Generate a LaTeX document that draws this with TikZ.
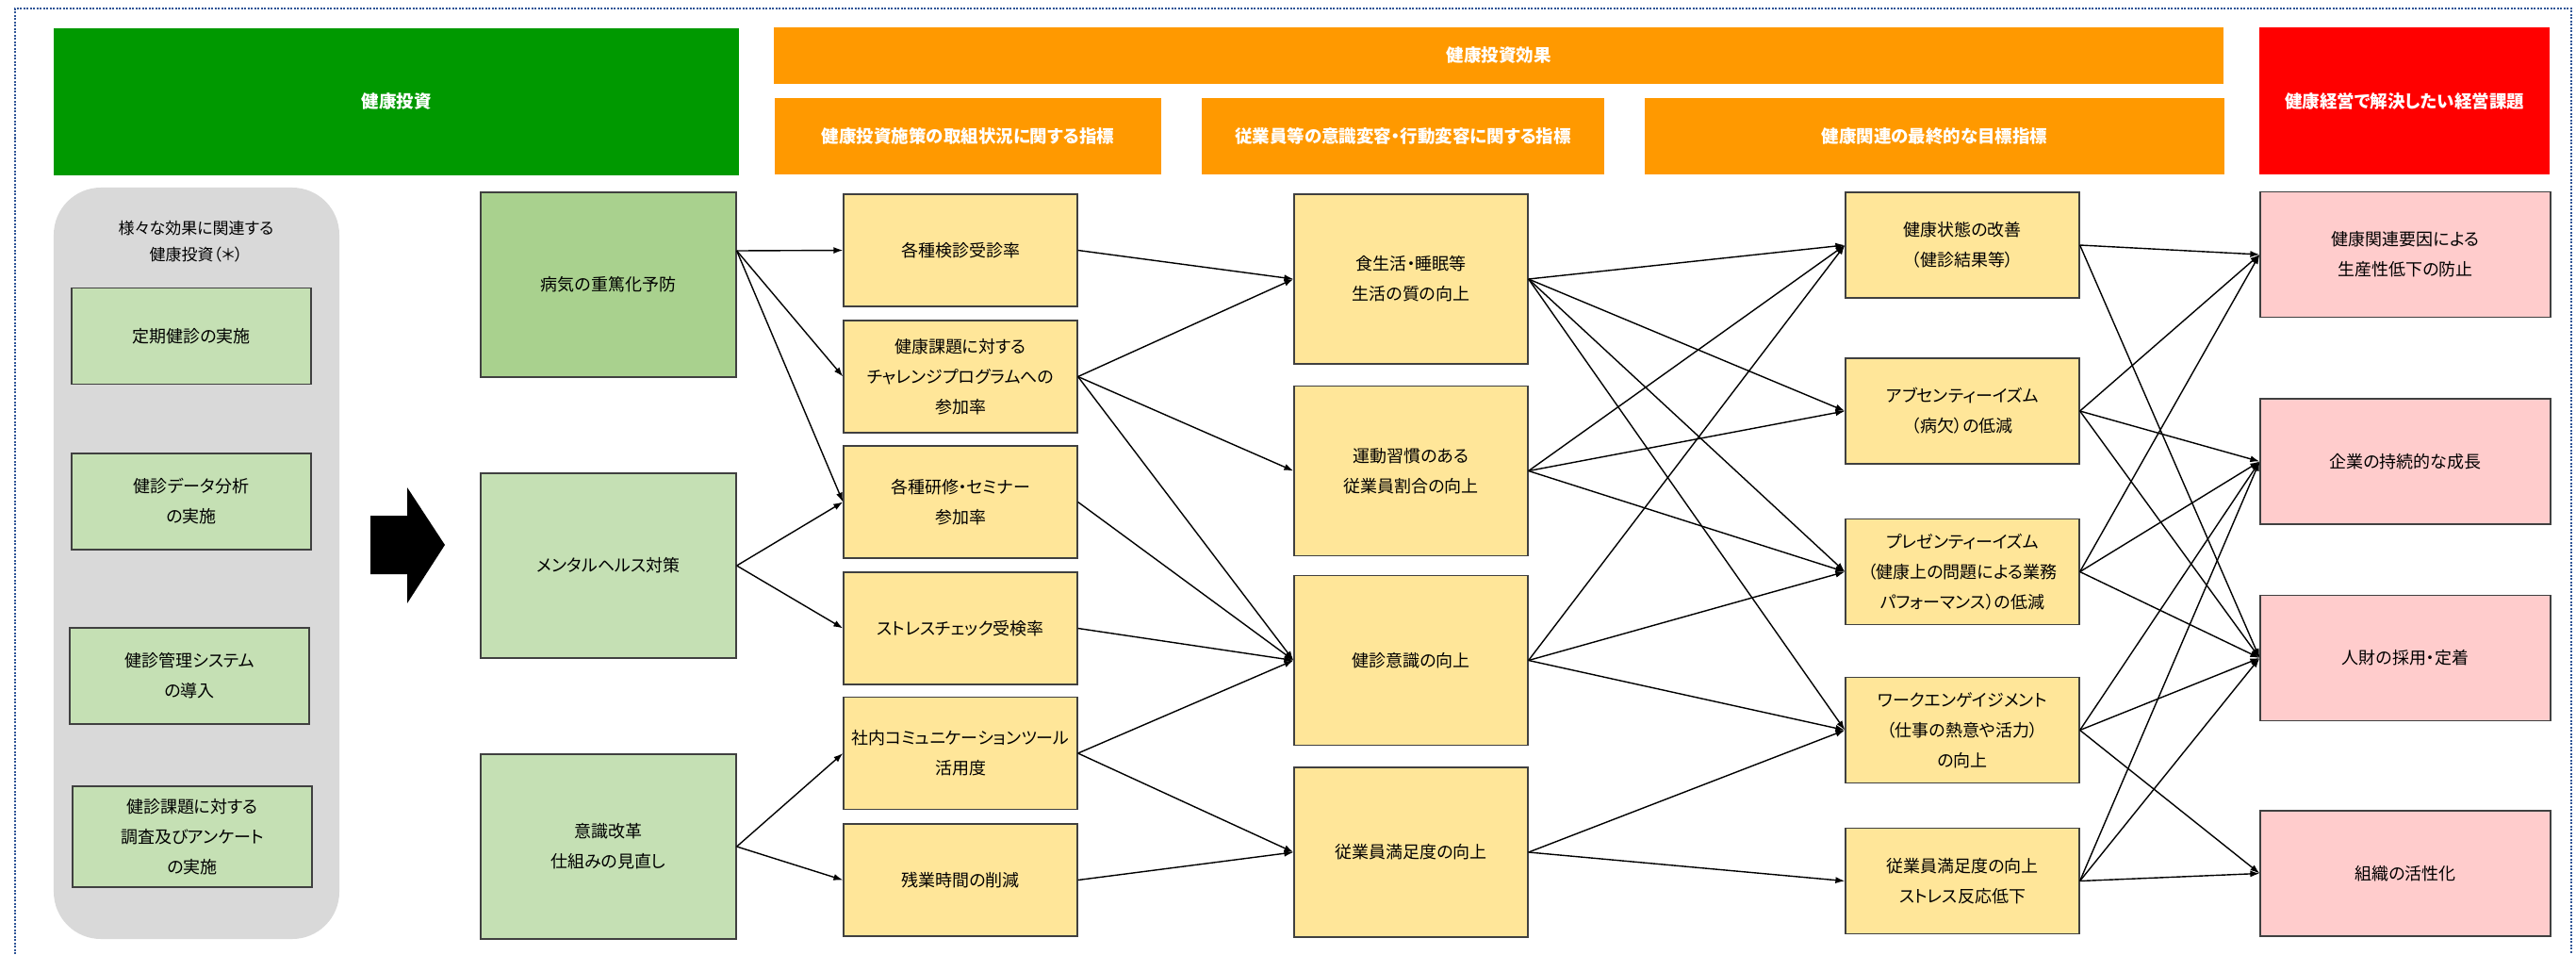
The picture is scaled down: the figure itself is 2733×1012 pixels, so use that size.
\documentclass[tikz,border=0pt]{standalone}
\usepackage{fontspec}
\setmainfont{Noto Sans CJK JP}[RawFeature=+palt]
\usepackage{tikz}
\usetikzlibrary{shapes,arrows,arrows.meta}

\definecolor{hgreen}{HTML}{009900}
\definecolor{horange}{HTML}{FF9900}
\definecolor{hred}{HTML}{FF0000}
\definecolor{panelgray}{HTML}{D9D9D9}
\definecolor{lgreen}{HTML}{C5E0B4}
\definecolor{mgreen}{HTML}{A9D18E}
\definecolor{lyellow}{HTML}{FFE699}
\definecolor{lpink}{HTML}{FFCCCC}
\definecolor{boxline}{HTML}{404040}
\definecolor{framblue}{HTML}{2F5597}

\begin{document}
\begin{tikzpicture}%[->,>=stealth',thick,node distance=3cm]
                [x=1bp,y=-1bp,
                 every path/.style={>={Latex[length=10bp,width=7bp]}},
                 hdr/.style={fill=horange,text=white,inner sep=0pt,
                   font=\fontsize{18.5bp}{22bp}\selectfont\bfseries},
                 box/.style={draw=boxline,line width=1.3bp,align=center,inner sep=0pt,
                   font=\fontsize{18bp}{32bp}\selectfont},
                 gbox/.style={box,fill=lgreen,minimum width=254bp,minimum height=102bp},
                 abox/.style={box,fill=lgreen,minimum width=271bp,minimum height=196bp},
                 ybox/.style={box,fill=lyellow,minimum width=248bp},
                 pbox/.style={box,fill=lpink,minimum width=308bp,minimum height=133bp},
                 conn/.style={->,line width=1.4bp,black}]
  \useasboundingbox (0,0) rectangle (2733,1012);
  \draw[framblue,line width=2bp,dash pattern=on 2bp off 1.5bp]
        (16,1012) -- (16,9) -- (2728,9) -- (2728,1012);

  % headers
  \node[hdr,fill=hgreen,minimum width=727bp,minimum height=156bp]  (hinv) at (420.5,108)  {健康投資};
  \node[hdr,minimum width=1538bp,minimum height=60bp]              (heff) at (1590,59)    {健康投資効果};
  \node[hdr,minimum width=410bp,minimum height=81bp]               (hm1)  at (1027,144.5) {健康投資施策の取組状況に関する指標};
  \node[hdr,minimum width=427bp,minimum height=81bp]               (hm2)  at (1488.5,144.5) {従業員等の意識変容・行動変容に関する指標};
  \node[hdr,minimum width=615bp,minimum height=81bp]               (hm3)  at (2052.5,144.5) {健康関連の最終的な目標指標};
  \node[hdr,fill=hred,minimum width=308bp,minimum height=156bp]    (hiss) at (2551,107)   {健康経営で解決したい経営課題};

  % left panel
  \node[fill=panelgray,rounded corners=50bp,minimum width=303bp,minimum height=797bp] (pnl) at (208.5,597.5) {};
  \node[align=center,inner sep=0pt,font=\fontsize{17bp}{28bp}\selectfont] (plbl) at (208,256)
        {様々な効果に関連する\\健康投資（＊）};
  \node[gbox] (g1) at (203,356.5) {定期健診の実施};
  \node[gbox] (g2) at (203,532)   {健診データ分析\\の実施};
  \node[gbox] (g3) at (201,717)   {健診管理システム\\の導入};
  \node[gbox,minimum height=107bp] (g4) at (204,887.5) {健診課題に対する\\調査及びアンケート\\の実施};

  \fill (393,547) -- (432,547) -- (432,517) -- (472,578) -- (432,640) -- (432,609) -- (393,609) -- cycle;

  % investments
  \node[abox,fill=mgreen] (a1) at (645.5,302) {病気の重篤化予防};
  \node[abox]             (a2) at (645.5,600) {メンタルヘルス対策};
  \node[abox]             (a3) at (645.5,898) {意識改革\\仕組みの見直し};
  \coordinate (a1out) at ([yshift=36bp]a1.east);

  % indicators
  \node[ybox,minimum height=119bp] (b1) at (1019,265.5) {各種検診受診率};
  \node[ybox,minimum height=119bp] (b2) at (1019,399.5) {健康課題に対する\\チャレンジプログラムへの\\参加率};
  \node[ybox,minimum height=119bp] (b3) at (1019,532.5) {各種研修・セミナー\\参加率};
  \node[ybox,minimum height=119bp] (b4) at (1019,666.5) {ストレスチェック受検率};
  \node[ybox,minimum height=119bp] (b5) at (1019,799)   {社内コミュニケーションツール\\活用度};
  \node[ybox,minimum height=119bp] (b6) at (1019,933.5) {残業時間の削減};

  \node[ybox,minimum height=180bp] (c1) at (1497,296)   {食生活・睡眠等\\生活の質の向上};
  \node[ybox,minimum height=180bp] (c2) at (1497,499.5) {運動習慣のある\\従業員割合の向上};
  \node[ybox,minimum height=180bp] (c3) at (1497,700.5) {健診意識の向上};
  \node[ybox,minimum height=180bp] (c4) at (1497,904)   {従業員満足度の向上};

  \node[ybox,minimum height=112bp] (d1) at (2082,260)   {健康状態の改善\\（健診結果等）};
  \node[ybox,minimum height=112bp] (d2) at (2082,436)   {アブセンティーイズム\\（病欠）の低減};
  \node[ybox,minimum height=112bp] (d3) at (2082,606.5) {プレゼンティーイズム\\（健康上の問題による業務\\パフォーマンス）の低減};
  \node[ybox,minimum height=112bp] (d4) at (2082,774.5) {ワークエンゲイジメント\\（仕事の熱意や活力）\\の向上};
  \node[ybox,minimum height=112bp] (d5) at (2082,934.5) {従業員満足度の向上\\ストレス反応低下};

  % issues
  \node[pbox] (p1) at (2552,270)   {健康関連要因による\\生産性低下の防止};
  \node[pbox] (p2) at (2552,489.5) {企業の持続的な成長};
  \node[pbox] (p3) at (2552,698)   {人財の採用・定着};
  \node[pbox] (p4) at (2552,926.5) {組織の活性化};

  % connectors
  \foreach \t in {b1,b2,b3}
    \draw[conn] (a1out) -- (\t.west);
  \foreach \s/\t in {a2/b3,a2/b4,a3/b5,a3/b6,
                     b1/c1,b2/c1,b2/c2,b2/c3,b3/c3,b4/c3,b5/c3,b5/c4,b6/c4,
                     c1/d1,c1/d2,c1/d3,c1/d4,c2/d1,c2/d2,c2/d3,c3/d1,c3/d3,c3/d4,c4/d4,c4/d5,
                     d1/p1,d1/p3,d2/p1,d2/p2,d2/p3,d3/p1,d3/p2,d3/p3,
                     d4/p2,d4/p3,d4/p4,d5/p2,d5/p3,d5/p4}
    \draw[conn] (\s.east) -- (\t.west);
\end{tikzpicture}
\end{document}
